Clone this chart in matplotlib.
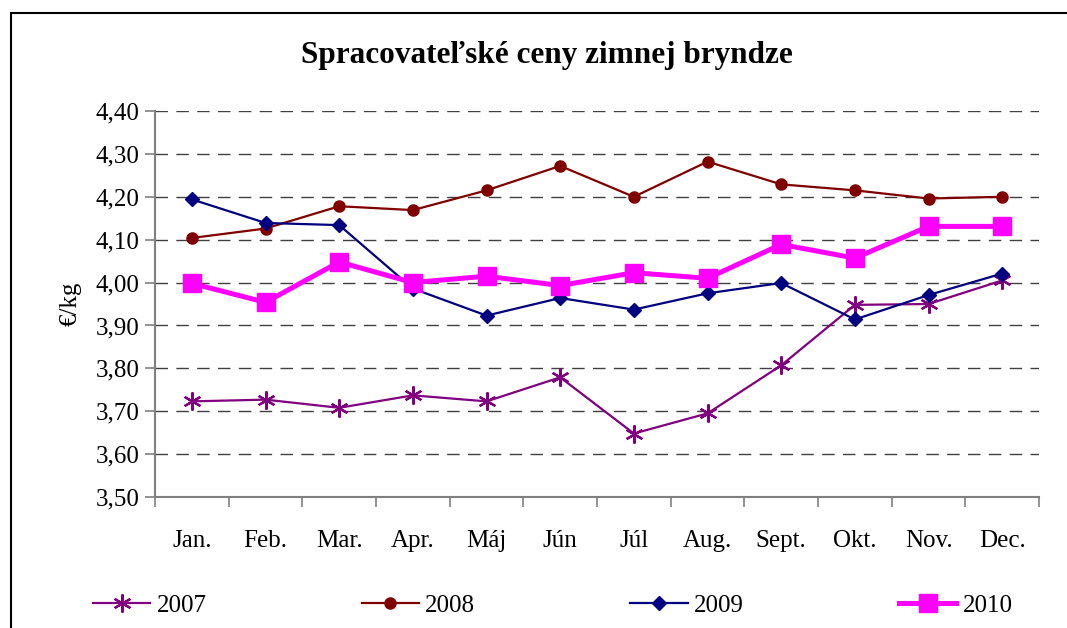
import numpy as np
import matplotlib
matplotlib.use('Agg')
from matplotlib import pyplot as plt
from matplotlib.patches import Rectangle

months = ['Jan.', 'Feb.', 'Mar.', 'Apr.', 'Máj', 'Jún', 'Júl', 'Aug.', 'Sept.', 'Okt.', 'Nov.', 'Dec.']
y2007 = [3.723, 3.727, 3.708, 3.737, 3.723, 3.779, 3.648, 3.695, 3.807, 3.948, 3.950, 4.005]
y2008 = [4.104, 4.126, 4.178, 4.169, 4.215, 4.272, 4.200, 4.282, 4.229, 4.215, 4.196, 4.200]
y2009 = [4.194, 4.139, 4.134, 3.986, 3.923, 3.964, 3.937, 3.975, 3.999, 3.914, 3.971, 4.021]
y2010 = [3.998, 3.954, 4.048, 4.000, 4.015, 3.993, 4.023, 4.010, 4.089, 4.057, 4.131, 4.131]
yticks = [3.5, 3.6, 3.7, 3.8, 3.9, 4.0, 4.1, 4.2, 4.3, 4.4]

plt.rcParams['font.family'] = ['Liberation Serif', 'DejaVu Serif']

fig = plt.figure(figsize=(10.67, 6.28), dpi=100)
ax = fig.add_axes([0.1453, 0.2086, 0.8285, 0.6146])

# outer frame of the chart
fig.patches.append(Rectangle((11/1067, -0.1), 1.2, 1 - 13/628 + 0.1, transform=fig.transFigure,
                             fill=False, edgecolor='black', linewidth=1.5))

x = np.arange(len(months))
ax.plot(x, y2007, color='#800080', lw=1.6, marker=(6, 2, 0), ms=13, mew=1.6, label='2007')
ax.plot(x, y2008, color='#800000', lw=1.6, marker='o', ms=8, label='2008')
ax.plot(x, y2009, color='#000080', lw=1.6, marker='D', ms=7.5, label='2009')
ax.plot(x, y2010, color='#FF00FF', lw=3.6, marker='s', ms=13.5, label='2010')

ax.set_xlim(-0.5, 11.5)
ax.set_ylim(3.5, 4.4)
ax.set_yticks(yticks)
ax.set_yticklabels([('%.2f' % v).replace('.', ',') for v in yticks], fontsize=18)
ax.set_xticks(x)
ax.set_xticklabels(months, fontsize=18)
ax.set_xticks(np.arange(-0.5, 12, 1), minor=True)
ax.tick_params(axis='x', which='major', length=0, pad=24)
ax.tick_params(axis='x', which='minor', length=7, color='#808080', width=1.2)
ax.tick_params(axis='y', length=7, color='#808080', width=1.2, pad=4)

for v in yticks[1:]:
    ax.axhline(v, color='#404040', lw=1, dashes=(9, 6), zorder=0)

for s in ['top', 'right']:
    ax.spines[s].set_visible(False)
for s in ['left', 'bottom']:
    ax.spines[s].set_color('#808080')
    ax.spines[s].set_linewidth(1.5)

ax.set_ylabel('€/kg', fontsize=18, labelpad=10)
fig.text(0.513, 0.912, 'Spracovateľské ceny zimnej bryndze', ha='center', va='center',
         fontsize=22.5, fontweight='bold')

fig.legend(loc='center', bbox_to_anchor=(0.518, 0.036), ncol=4, frameon=False, fontsize=18,
           handlelength=2.3, handletextpad=0.25, columnspacing=6.2)

fig.savefig('out.png', dpi=100)
